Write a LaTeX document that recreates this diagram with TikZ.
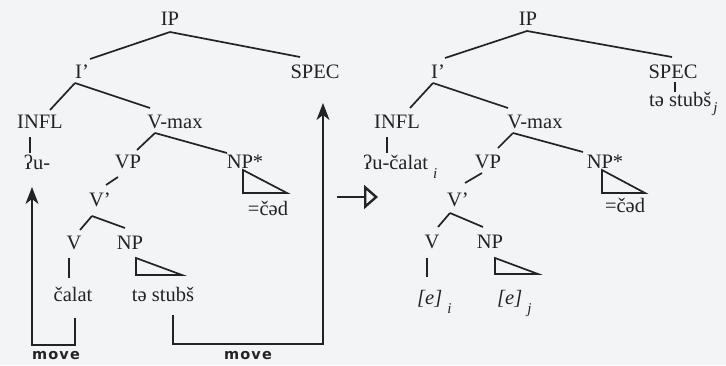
\documentclass[tikz,border=0pt]{standalone}
\usepackage{fontspec}
\setmainfont{Liberation Serif}
\newfontfamily\movefont[LetterSpace=8]{DejaVu Sans}
\usetikzlibrary{arrows.meta,calc}
\definecolor{bg}{RGB}{243,244,246}
\definecolor{ink}{RGB}{35,35,38}
\newcommand\tedge[4]{\draw[br] ([shift={(#2)}]#1) -- ([shift={(#4)}]#3);}
\newcommand\subl[1]{\kern5pt\raisebox{-9pt}{\fontsize{15}{15}\selectfont\itshape #1}}
\newcommand\subs[1]{\kern2pt\raisebox{-6pt}{\fontsize{15}{15}\selectfont\itshape #1}}
\begin{document}
\begin{tikzpicture}[x=1pt,y=-1pt,
  lbl/.style={inner sep=0pt,text height=12.5pt,text depth=0pt,font=\fontsize{20.5}{22}\selectfont,text=ink},
  br/.style={draw=ink,line width=1.7pt},
  mv/.style={draw=ink,line width=1.5pt},
  mvlbl/.style={inner sep=0pt,font=\movefont\bfseries\fontsize{14.5}{16}\selectfont,text=ink}]
\fill[bg] (0,0) rectangle (726,365);
\useasboundingbox (0,0) rectangle (726,365);

% ---------- left tree ----------
\node[lbl] (IPa) at (170,19) {IP};
\node[lbl] (Ia) at (82,72) {I'};
\node[lbl] (SPECa) at (315,72) {SPEC};
\node[lbl] (INFLa) at (40,122) {INFL};
\node[lbl] (Vmaxa) at (175,122) {V-max};
\node[lbl] (ua) at (37,163) {ʔu-};
\node[lbl] (VPa) at (128,162) {VP};
\node[lbl] (NPsa) at (245,162) {NP*};
\node[lbl] (Vba) at (100,200) {V'};
\node[lbl] (Va) at (74,243) {V};
\node[lbl] (NPa) at (130,243) {NP};
\node[lbl] (cala) at (73,295) {čalat};
\node[lbl] (stubsa) at (163,295) {tə stubš};
\node[lbl] (ceda) at (268,209) {=čəd};

\tedge{IPa.center}{0,13}{Ia.center}{8,-13}
\tedge{IPa.center}{0,13}{SPECa.center}{-15,-15}
\tedge{Ia.center}{-7,11}{INFLa.center}{10,-12}
\tedge{Ia.center}{-7,11}{Vmaxa.center}{-25,-14}
\tedge{INFLa.center}{-10,15}{ua.center}{-7,-10}
\tedge{Vmaxa.center}{-20,11}{VPa.center}{9,-12}
\tedge{Vmaxa.center}{-20,11}{NPsa.center}{-18,-9}
\tedge{VPa.center}{-10,15}{Vba.center}{6,-15}
\tedge{Vba.center}{-8,16}{Va.center}{6,-13}
\tedge{Vba.center}{-8,16}{NPa.center}{-5,-15}
\tedge{Va.center}{-5,15}{cala.center}{-4,-17}
\draw[br,line join=miter] ([shift={(6,15)}]NPa.center) -- ++(0,17) -- ++(46,0) -- cycle;
\draw[br,line join=miter] ([shift={(-2,8)}]NPsa.center) -- ++(0,23) -- ++(44,0) -- cycle;

% movement arrows
\draw[mv,-{Stealth[length=17pt,width=13pt,inset=5pt]}]
  ([shift={(2,23)}]cala.center) -- ++(0,27) -| ([shift={(-5,24)}]ua.center);
\draw[mv,-{Stealth[length=17pt,width=13pt,inset=5pt]}]
  ([shift={(10,20)}]stubsa.center) -- ++(0,29) -| ([shift={(8,31)}]SPECa.center);
\node[mvlbl] (mv1) at (56,356) {move};
\node[mvlbl] (mv2) at (248,356) {move};

% middle arrow
\coordinate (ma) at (337,197);
\coordinate (mb) at (378,197);
\draw[ink,line width=2.4pt,-{Triangle[open,length=14pt,width=24pt]}] (ma) -- (mb);

% ---------- right tree ----------
\node[lbl] (IPb) at (528,19) {IP};
\node[lbl] (Ib) at (438,72) {I'};
\node[lbl] (SPECb) at (673,72) {SPEC};
\node[lbl,anchor=west] (stubsb) at (649,100) {tə stubš\subs{j}};
\node[lbl] (INFLb) at (397,122) {INFL};
\node[lbl] (Vmaxb) at (535,122) {V-max};
\node[lbl,anchor=west] (ucal) at (363,163) {ʔu-čalat\subl{i}};
\node[lbl] (VPb) at (488,162) {VP};
\node[lbl] (NPsb) at (605,162) {NP*};
\node[lbl] (Vbb) at (458,200) {V'};
\node[lbl] (Vb) at (432,242) {V};
\node[lbl] (NPb) at (490,242) {NP};
\node[lbl,anchor=west] (ei) at (417,298) {\textit{[e]}\subl{i}};
\node[lbl,anchor=west] (ej) at (497,298) {\textit{[e]}\subl{j}};
\node[lbl] (cedb) at (625,206) {=čəd};

\tedge{IPb.center}{-1,12}{Ib.center}{7,-14}
\tedge{IPb.center}{-1,12}{SPECb.center}{-1,-15}
\tedge{SPECb.center}{2,10}{stubsb.west}{26,-8}
\tedge{Ib.center}{-5,11}{INFLb.center}{13,-14}
\tedge{Ib.center}{-5,11}{Vmaxb.center}{-27,-14}
\tedge{INFLb.center}{-10,15}{ucal.west}{24,-10}
\tedge{Vmaxb.center}{-22,11}{VPb.center}{10,-14}
\tedge{Vmaxb.center}{-22,11}{NPsb.center}{-22,-10}
\tedge{VPb.center}{-6,11}{Vbb.center}{7,-17}
\tedge{Vbb.center}{-8,13}{Vb.center}{6,-15}
\tedge{Vbb.center}{-8,13}{NPb.center}{-7,-15}
\tedge{Vb.center}{-5,16}{ei.west}{10,-21}
\draw[br,line join=miter] ([shift={(5,16)}]NPb.center) -- ++(0,16) -- ++(43,0) -- cycle;
\draw[br,line join=miter] ([shift={(-3,8)}]NPsb.center) -- ++(0,23) -- ++(43,0) -- cycle;
\end{tikzpicture}
\end{document}
